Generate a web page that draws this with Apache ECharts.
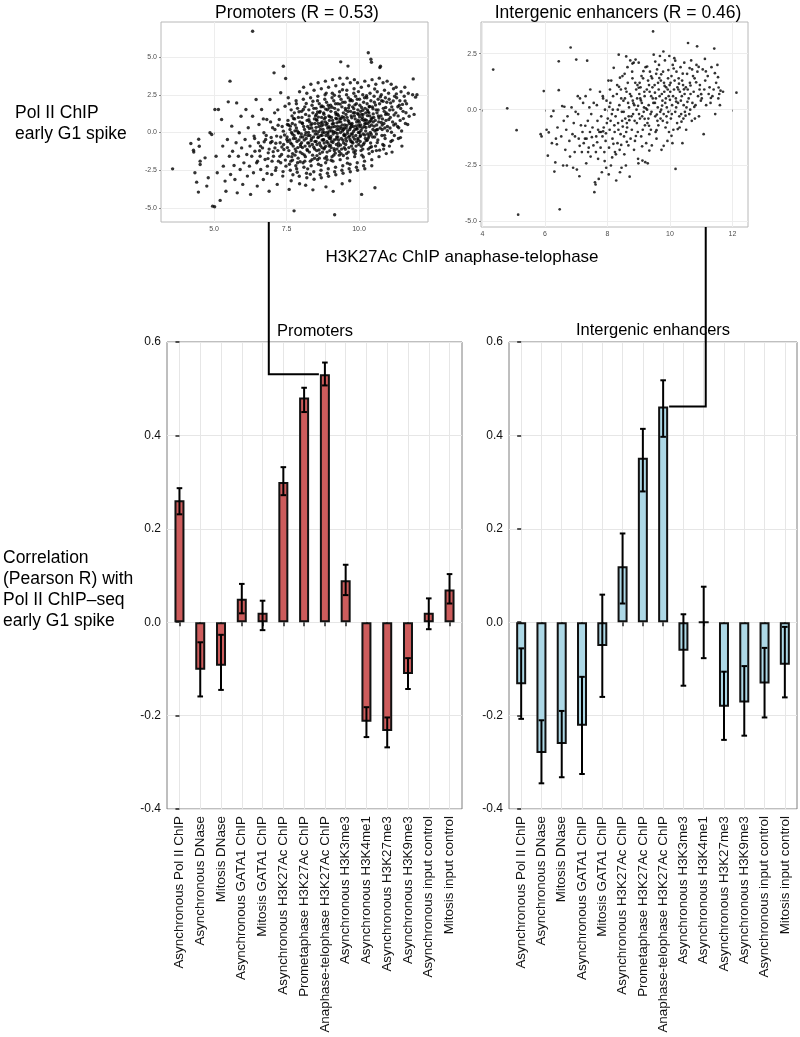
<!DOCTYPE html>
<html><head><meta charset="utf-8">
<script src="https://cdn.jsdelivr.net/npm/echarts@6/dist/echarts.min.js"></script>
<style>html,body{margin:0;padding:0;background:#fff}#c{width:800px;height:1037px}</style>
</head><body><div id="c"></div>
<script>
const categories = ["Asynchronous Pol II ChIP","Asynchronous DNase","Mitosis DNase","Asynchronous GATA1 ChIP","Mitosis GATA1 ChIP","Asynchronous H3K27Ac ChIP","Prometaphase H3K27Ac ChIP","Anaphase-telophase H3K27Ac ChIP","Asynchronous H3K3me3","Asynchronous H3K4me1","Asynchronous H3K27me3","Asynchronous H3K9me3","Asynchronous input control","Mitosis input control"];
const promoterR    = [0.261,-0.102,-0.093,0.050,0.020,0.300,0.481,0.531,0.090,-0.213,-0.233,-0.111,0.020,0.070];
const promoterLow  = [0.231,-0.159,-0.145,0.019,-0.017,0.272,0.450,0.507,0.058,-0.246,-0.268,-0.143,-0.015,0.040];
const promoterHigh = [0.287,-0.043,-0.027,0.082,0.046,0.332,0.502,0.556,0.123,-0.182,-0.204,-0.077,0.051,0.103];
const enhancerR    = [-0.133,-0.280,-0.261,-0.222,-0.051,0.120,0.352,0.462,-0.061,0.000,-0.181,-0.172,-0.131,-0.091];
const enhancerLow  = [-0.207,-0.345,-0.332,-0.325,-0.160,0.040,0.280,0.397,-0.136,-0.077,-0.252,-0.243,-0.204,-0.161];
const enhancerHigh = [-0.056,-0.210,-0.190,-0.117,0.059,0.190,0.414,0.518,0.017,0.076,-0.106,-0.094,-0.055,-0.010];
const promoterXTicks = [5,7.5,10];
const promoterYTicks = [-5,-2.5,0,2.5,5];
const enhancerXTicks = [4,6,8,10,12];
const enhancerYTicks = [-5,-2.5,0,2.5];

// Promoters scatter (x = H3K27Ac anaphase-telophase, y = Pol II early G1), flat x,y pairs
const promoterPoints = [
3.57,-2.41,4.2,-0.73,4.29,-1.17,4.3,-1.3,4.34,-2.67,4.4,-3.29,4.46,-3.95,4.52,-1.9,4.47,-0.45,4.49,-0.91,4.52,-2.12,4.69,-1.68,4.75,-3.55,4.8,-3.0,4.86,-0.02,4.92,-0.13,4.95,-4.88,5.02,-4.92,5.03,1.52,5.15,1.52,5.07,-1.57,5.11,-2.67,5.21,-4.5,5.26,0.86,5.3,-0.9,5.32,-2.23,5.38,-3.22,5.41,-3.89,5.46,-0.46,5.49,2.03,5.53,-1.57,5.55,3.4,5.57,-2.78,5.61,0.42,5.64,-1.24,5.69,-2.19,5.72,-3.11,5.76,-0.68,5.78,1.96,5.8,-4.0,5.84,-1.57,5.87,-0.02,5.9,-2.45,5.93,1.08,5.95,-1.02,5.99,-3.44,6.03,-2.01,6.07,-0.46,6.1,1.52,6.13,-1.46,6.15,-2.89,6.18,0.31,6.22,-2.23,6.24,-0.9,6.26,-4.1,6.3,-1.57,6.33,6.71,6.33,1.08,6.36,-2.67,6.38,-0.24,6.41,-1.24,6.45,2.19,6.47,-2.01,6.49,-3.55,6.53,-0.68,6.55,0.53,6.59,-1.57,6.61,-2.45,6.64,1.52,6.67,-1.02,6.7,-3.11,6.72,-0.02,6.76,-1.79,6.78,-0.46,6.82,0.86,6.84,-2.23,6.87,-1.35,6.9,-3.89,6.93,2.19,6.95,-0.68,6.99,-2.78,7.02,0.31,7.05,-1.57,7.07,3.95,7.09,1.3,7.1,-1.02,7.14,-2.34,7.16,-0.24,7.18,-3.44,7.22,-1.9,7.25,0.86,7.28,-0.68,7.3,2.63,7.33,-1.46,7.37,-2.89,7.39,4.39,7.39,0.09,7.41,-1.13,7.45,1.74,7.47,3.58,7.48,-2.23,7.51,-0.46,7.53,0.53,7.56,-1.57,7.59,-3.77,7.76,-5.19,
6.6,-0.9,6.8,-0.2,6.9,-1.1,7.0,-0.6,7.1,0.2,7.2,-1.2,7.3,-0.3,7.4,-0.8,7.0,-1.9,7.3,-2.0,6.5,-1.9,6.7,0.9,7.2,1.5,6.4,-0.4,6.95,0.7,7.35,0.4,
6.57,-1.21,6.73,-0.61,6.86,-1.73,6.97,-0.33,7.04,-1.27,7.13,-0.71,7.21,0.48,7.27,-1.58,7.34,-0.96,7.43,-0.17,7.46,-1.83,6.83,-2.71,7.12,-2.51,7.38,-2.59,
7.52,-0.3,7.55,0.8,7.58,-1.2,7.6,-2.1,7.62,0.2,7.64,-0.7,7.66,1.5,7.68,-1.6,7.7,-0.1,7.72,-2.8,7.53,-1.0,7.57,0.5,7.61,-0.5,7.65,-1.9,7.69,1.1,7.73,-0.9,7.56,2.3,7.63,-2.5,7.67,0.0,7.71,-1.4,7.54,-0.6,7.59,1.9,7.66,-3.2,7.7,0.6,7.74,-0.4,
7.76,-0.2,7.78,0.9,7.8,-1.1,7.82,-2.2,7.84,0.3,7.86,-0.6,7.88,1.6,7.9,-1.7,7.92,0.0,7.94,-2.9,7.96,0.7,7.98,-0.8,7.77,1.3,7.79,-1.5,7.81,-0.4,7.83,2.1,7.85,-2.4,7.87,0.1,7.89,-1.0,7.91,1.0,7.93,-0.5,7.95,2.7,7.97,-1.3,7.99,-0.3,7.8,0.5,7.88,-2.0,7.95,-3.4,7.84,1.9,
8.01,-0.1,8.03,1.0,8.05,-1.0,8.07,-2.0,8.09,0.4,8.11,-0.5,8.13,1.7,8.15,-1.6,8.17,0.0,8.19,-2.7,8.21,0.8,8.23,-0.7,8.02,1.4,8.04,-1.4,8.06,-0.3,8.08,2.2,8.1,-2.3,8.12,0.2,8.14,-0.9,8.16,1.2,8.18,-0.4,8.2,2.6,8.22,-1.2,8.24,-0.2,8.05,0.6,8.13,-1.9,8.2,-3.0,8.09,3.0,8.16,-3.5,8.23,0.4,
8.26,0.0,8.28,1.1,8.3,-0.9,8.32,-1.9,8.34,0.5,8.36,-0.4,8.38,1.8,8.4,-1.5,8.42,0.1,8.44,-2.6,8.46,0.9,8.48,-0.6,8.27,1.5,8.29,-1.3,8.31,-0.2,8.33,2.3,8.35,-2.2,8.37,0.3,8.39,-0.8,8.41,1.3,8.43,-0.3,8.45,2.8,8.47,-1.1,8.49,-0.1,8.3,0.7,8.38,-1.8,8.45,-3.1,8.34,3.2,8.41,-3.8,8.48,0.6,8.27,-0.7,8.44,1.6,
8.51,0.1,8.53,1.2,8.55,-0.8,8.57,-1.8,8.59,0.6,8.61,-0.3,8.63,1.9,8.65,-1.4,8.67,0.2,8.69,-2.5,8.71,1.0,8.73,-0.5,8.52,1.6,8.54,-1.2,8.56,-0.1,8.58,2.4,8.6,-2.1,8.62,0.4,8.64,-0.7,8.66,1.4,8.68,-0.2,8.7,2.9,8.72,-1.0,8.74,0.0,8.55,0.8,8.63,-1.7,8.7,-3.0,8.59,3.3,8.66,-2.8,8.73,0.7,8.52,-0.6,8.69,1.7,8.57,2.1,8.74,-1.3,
8.76,0.2,8.78,1.3,8.8,-0.7,8.82,-1.7,8.84,0.7,8.86,-0.2,8.88,2.0,8.9,-1.3,8.92,0.3,8.94,-2.4,8.96,1.1,8.98,-0.4,8.77,1.7,8.79,-1.1,8.81,0.0,8.83,2.5,8.85,-2.0,8.87,0.5,8.89,-0.6,8.91,1.5,8.93,-0.1,8.95,3.0,8.97,-0.9,8.99,0.1,8.8,0.9,8.88,-1.6,8.95,-2.9,8.84,3.4,8.91,-2.7,8.98,0.8,8.77,-0.5,8.94,1.8,8.82,2.2,8.99,-1.2,8.86,-3.6,8.9,0.6,
9.01,0.3,9.03,1.4,9.05,-0.6,9.07,-1.6,9.09,0.8,9.11,-0.1,9.13,2.1,9.15,-1.2,9.17,0.4,9.19,-2.3,9.21,1.2,9.23,-0.3,9.02,1.8,9.04,-1.0,9.06,0.1,9.08,2.6,9.1,-1.9,9.12,0.6,9.14,-0.5,9.16,1.6,9.18,0.0,9.2,3.1,9.22,-0.8,9.24,0.2,9.05,1.0,9.13,-1.5,9.2,-2.8,9.09,3.5,9.16,-2.6,9.23,0.9,9.02,-0.4,9.19,1.9,9.07,2.3,9.24,-1.1,9.11,-3.9,9.16,-5.45,
9.26,0.4,9.28,1.5,9.3,-0.5,9.32,-1.5,9.34,0.9,9.36,0.0,9.38,2.2,9.4,-1.1,9.42,0.5,9.44,-2.2,9.46,1.3,9.48,-0.2,9.27,1.9,9.29,-0.9,9.31,0.2,9.33,2.7,9.35,-1.8,9.37,0.7,9.39,-0.4,9.41,1.7,9.43,0.1,9.45,3.2,9.47,-0.7,9.49,0.3,9.3,1.1,9.38,-1.4,9.45,-2.7,9.34,3.6,9.41,-2.5,9.48,1.0,9.27,-0.3,9.44,2.0,9.32,2.4,9.49,-1.0,9.37,4.68,9.42,-3.4,
9.51,0.5,9.53,1.6,9.55,-0.4,9.57,-1.4,9.59,1.0,9.61,0.1,9.63,2.3,9.65,-1.0,9.67,0.6,9.69,-2.1,9.71,1.4,9.73,-0.1,9.52,2.0,9.54,-0.8,9.56,0.3,9.58,2.8,9.6,-1.7,9.62,0.8,9.64,-0.3,9.66,1.8,9.68,0.2,9.7,3.3,9.72,-0.6,9.74,0.4,9.55,1.2,9.63,-1.3,9.7,-2.6,9.59,3.6,9.66,-2.4,9.73,1.1,9.52,-0.2,9.69,2.1,9.57,2.5,9.74,-0.9,9.62,4.4,9.68,-3.2,
9.76,0.6,9.78,1.7,9.8,-0.3,9.82,-1.3,9.84,1.1,9.86,0.2,9.88,2.4,9.9,-0.9,9.92,0.7,9.94,-2.0,9.96,1.5,9.98,0.0,9.77,2.1,9.79,-0.7,9.81,0.4,9.83,2.9,9.85,-1.6,9.87,0.9,9.89,-0.2,9.91,1.9,9.93,0.3,9.95,3.3,9.97,-0.5,9.99,0.5,9.8,1.3,9.88,-1.2,9.95,-2.5,9.84,3.5,9.91,-2.3,9.98,1.2,9.77,-0.1,9.94,2.2,9.82,2.6,9.99,-0.8,
10.01,0.7,10.03,1.8,10.05,-0.2,10.07,-1.2,10.09,1.2,10.11,0.3,10.13,2.5,10.15,-0.8,10.17,0.8,10.19,-1.9,10.21,1.6,10.23,0.1,10.02,2.2,10.04,-0.6,10.06,0.5,10.08,3.0,10.1,-1.5,10.12,1.0,10.14,-0.1,10.16,2.0,10.18,0.4,10.2,3.4,10.22,-0.4,10.24,0.6,10.05,1.4,10.13,-1.1,10.2,-2.4,10.09,-4.1,10.16,-2.2,10.23,1.3,10.02,0.0,10.19,2.3,
10.26,0.8,10.28,1.9,10.3,-0.1,10.32,-1.1,10.34,1.3,10.36,0.4,10.38,2.6,10.4,-0.7,10.42,0.9,10.44,-1.8,10.46,1.7,10.48,0.2,10.27,2.3,10.29,-0.5,10.31,0.6,10.33,3.1,10.35,-1.4,10.37,1.1,10.39,0.0,10.41,2.1,10.43,0.5,10.45,3.5,10.47,-0.3,10.49,0.7,10.32,5.28,10.38,-1.0,10.44,-2.2,10.41,4.85,10.43,4.65,10.29,1.5,
10.51,1.0,10.53,2.0,10.55,0.1,10.57,-0.9,10.59,1.5,10.61,0.5,10.63,2.7,10.65,-0.5,10.67,1.1,10.69,-1.6,10.71,1.9,10.73,0.3,10.52,2.4,10.54,-0.3,10.56,0.8,10.58,3.2,10.6,-1.2,10.62,1.3,10.64,0.2,10.66,2.2,10.68,0.7,10.7,3.6,10.55,-3.66,10.74,4.39,10.72,4.3,10.6,-0.1,
10.76,1.1,10.78,2.1,10.8,0.2,10.82,-0.8,10.84,1.6,10.86,0.6,10.88,2.8,10.9,-0.4,10.92,1.2,10.94,-1.4,10.96,2.0,10.98,0.4,10.77,2.5,10.79,-0.2,10.81,0.9,10.83,3.3,10.85,-1.1,10.87,1.4,10.89,0.3,10.91,2.3,10.93,0.8,10.97,3.4,
11.01,1.2,11.04,2.2,11.07,0.3,11.1,-0.6,11.13,1.7,11.16,0.7,11.19,2.9,11.22,-0.2,11.02,2.6,11.05,-0.9,11.08,1.0,11.11,3.2,11.14,-1.3,11.17,1.5,11.2,0.5,11.23,2.4,
11.27,1.3,11.3,2.3,11.33,0.4,11.36,-0.4,11.39,1.8,11.42,0.8,11.45,2.7,11.48,-0.9,11.28,3.0,11.35,1.1,11.41,2.1,11.47,0.1,
11.52,1.4,11.56,2.4,11.6,0.6,11.64,1.9,11.68,0.53,11.73,1.08,11.58,3.0,11.7,2.6,
11.8,1.6,11.87,3.55,11.95,2.34,11.85,2.5,11.9,1.2,12.0,2.5,
7.63,0.42,7.71,-1.83,7.79,0.11,7.87,-2.63,7.93,1.37,7.99,-0.92,8.04,0.63,8.11,-1.48,8.18,1.92,8.23,-2.41,8.29,0.27,8.35,-0.53,8.41,2.07,8.47,-1.71,8.53,0.86,8.58,-0.34,8.64,1.33,8.69,-2.18,8.76,0.51,8.81,-1.02,8.87,2.61,8.93,-0.71,8.99,1.04,9.04,-1.84,9.09,0.37,9.15,2.47,9.21,-0.44,9.26,1.21,9.32,-1.26,9.38,0.93,9.43,2.83,9.49,-0.12,9.54,1.48,9.6,-2.03,9.65,0.71,9.71,2.19,9.76,-0.63,9.82,1.58,9.87,-1.41,9.93,0.22,9.98,2.71,10.04,-0.27,10.09,1.66,10.15,-1.62,10.21,0.84,10.26,2.43,10.32,-0.36,10.37,1.72,10.43,-0.94,10.49,1.23,10.54,2.88,10.6,0.17,10.66,1.49,10.71,-1.17,10.77,0.66,10.83,2.07,10.88,-0.19,10.94,1.29,11.03,0.86,11.09,1.96,11.15,-0.52,11.21,1.16,11.29,2.56,11.37,0.31,11.44,1.59,11.53,0.92,11.62,1.31,
7.68,-0.77,7.74,0.93,7.83,-1.26,7.91,-0.04,7.97,-1.94,8.02,-0.68,8.08,1.52,8.14,-0.16,8.21,-1.12,8.27,0.84,8.32,-2.77,8.38,0.58,8.44,-0.98,8.5,1.09,8.55,-1.53,8.61,0.06,8.67,-0.87,8.72,1.76,8.78,-0.47,8.84,0.99,8.9,-1.81,8.96,0.39,9.01,-0.84,9.07,1.67,9.12,0.05,9.18,-1.37,9.24,0.64,9.29,-0.71,9.35,1.88,9.4,0.27,9.46,-1.52,9.51,0.82,9.57,-0.57,9.62,1.39,9.68,-0.24,9.73,0.53,9.79,-1.09,9.85,1.31,9.9,0.44,9.96,-0.39,10.02,1.04,10.07,0.13,10.13,1.47,10.18,-0.69,10.24,0.33,10.29,1.12,10.35,-0.23,10.41,0.77,10.46,-1.26,10.52,0.42,10.57,1.82,10.63,-0.67,10.69,0.96,10.74,2.37,10.8,0.49,10.86,-0.86,10.92,1.66,10.98,0.12,11.06,1.49,11.12,0.02,11.18,2.09,11.26,0.57,11.34,1.71,11.43,-0.34,11.5,1.86,11.59,2.09,
8.52,0.34,8.57,1.36,8.62,-1.16,8.68,0.61,8.73,-0.19,8.79,1.21,8.85,-0.92,8.91,0.02,8.97,1.63,9.03,-0.27,9.08,0.57,9.14,-1.07,9.19,1.32,9.25,-0.06,9.31,0.71,9.36,-0.83,9.42,1.04,9.47,0.19,9.53,-1.11,9.58,0.47,9.64,1.62,9.69,-0.46,9.75,0.98,9.81,0.07,9.86,1.83,9.92,-0.62,9.97,0.81,10.03,0.38,10.08,-0.91,10.14,1.19,10.2,0.58,10.25,-0.54,10.31,1.38,10.36,0.71,10.42,-0.12,10.48,1.57,8.7,0.43,8.95,-0.28,9.2,0.94,9.45,-0.51,9.7,0.31,9.95,1.26,10.2,-0.17,10.45,0.96,8.6,1.02,8.85,1.55,9.1,-0.66,9.35,0.38,9.6,-0.06,9.85,-0.44,10.1,0.86,10.35,1.71
];

// Intergenic enhancers scatter, flat x,y pairs
const enhancerPoints = [
4.34,1.79,4.79,0.06,5.09,-0.92,5.14,-4.7,5.96,0.83,5.86,-1.1,5.89,-1.2,
6.05,-0.9,6.09,-2.06,6.12,-1.02,6.2,-0.3,6.22,-1.5,
6.27,-0.06,6.3,-2.77,6.33,-2.36,6.35,-1.3,6.38,-1.55,6.44,2.16,6.44,0.87,6.47,-4.46,6.4,-0.8,
6.52,-1.2,6.55,0.16,6.58,-2.5,6.6,-0.5,6.62,0.13,6.65,-1.8,6.68,-0.9,6.7,-2.5,6.72,-0.3,
6.78,-1.4,6.8,-2.1,6.82,2.78,6.85,0.1,6.88,-1.1,6.9,-2.6,6.92,-0.6,6.95,-1.9,6.98,-0.1,6.96,-1.2,
7.0,2.24,7.02,-2.68,7.05,0.6,7.08,-1.3,7.1,-2.98,7.12,0.5,7.15,-0.7,7.18,-1.9,7.2,-1.0,7.22,0.3,7.24,-1.5,7.06,-0.2,
7.28,-1.3,7.3,0.6,7.32,-2.4,7.35,2.19,7.37,-0.5,7.4,-1.7,7.42,0.1,7.44,-1.0,7.46,-2.1,7.48,-0.2,7.33,-1.3,7.45,0.9,7.38,-1.9,
7.52,-0.8,7.55,-1.6,7.58,-3.69,7.6,-3.25,7.62,-3.35,7.64,-1.2,7.66,0.2,7.68,-0.5,7.7,-2.2,7.72,-3.1,7.74,-1.0,7.56,0.3,7.63,-1.9,7.7,-0.9,
7.76,0.8,7.78,-1.7,7.8,-0.3,7.82,-2.8,7.84,-1.2,7.86,0.5,7.88,-0.8,7.9,-1.9,7.92,0.0,7.94,-1.4,7.96,-2.6,7.98,-0.6,7.79,-1.0,7.85,0.6,7.91,-2.3,7.97,0.4,
8.01,-0.4,8.03,1.3,8.05,-1.7,8.07,-0.9,8.09,0.3,8.11,-2.5,8.12,1.3,8.14,-0.2,8.16,-1.3,8.18,0.6,8.2,1.87,8.22,-0.7,8.24,-1.9,8.04,-2.9,8.1,-0.5,8.17,0.0,8.23,-1.0,8.08,0.9,
8.26,-0.3,8.28,-3.17,8.3,0.7,8.32,-1.5,8.34,-0.6,8.36,2.46,8.38,0.2,8.4,-2.8,8.42,-1.1,8.44,0.5,8.46,-0.1,8.48,1.5,8.27,-2.0,8.31,1.1,8.35,-0.9,8.39,-1.8,8.43,0.9,8.47,-0.5,8.45,-2.6,8.33,0.0,
8.51,0.4,8.53,-1.2,8.55,1.6,8.57,-0.4,8.59,-2.5,8.61,0.8,8.63,-0.8,8.65,1.2,8.67,-1.6,8.69,0.1,8.71,-3.0,8.73,2.2,8.52,-0.1,8.56,0.5,8.6,-1.0,8.64,1.9,8.68,-0.3,8.72,0.7,8.54,-2.0,8.62,-0.6,8.66,0.3,8.74,-1.3,
8.76,0.6,8.78,-0.9,8.8,1.4,8.82,-0.2,8.84,2.1,8.86,0.2,8.88,-1.4,8.9,2.24,8.92,0.9,8.94,-0.6,8.96,1.1,8.98,-2.2,8.77,-0.3,8.81,0.4,8.85,-1.8,8.89,1.2,8.93,0.0,8.97,-1.0,8.79,1.7,8.87,-0.5,8.95,0.5,8.99,-2.4,
9.0,2.1,9.02,0.7,9.04,-0.4,9.06,1.0,9.08,-1.2,9.1,0.3,9.12,-2.28,9.14,1.4,9.16,-0.1,9.18,0.8,9.2,-0.7,9.22,1.9,9.24,-1.5,9.01,-0.2,9.05,0.5,9.09,1.5,9.13,-0.9,9.17,0.1,9.21,-2.35,9.03,1.2,9.11,-0.3,9.19,0.6,
9.26,0.9,9.28,-0.6,9.3,1.3,9.32,0.2,9.34,-1.1,9.36,1.7,9.38,-0.2,9.4,0.6,9.42,-1.6,9.44,1.0,9.46,3.5,9.48,2.46,9.27,0.0,9.31,-0.4,9.35,0.8,9.39,-0.9,9.43,1.4,9.47,0.3,9.29,-2.4,9.33,1.1,9.41,-0.1,9.45,0.5,
9.51,1.1,9.53,-0.3,9.55,0.5,9.57,-1.3,9.59,1.8,9.61,0.1,9.63,-0.7,9.65,2.0,9.67,0.6,9.69,-0.1,9.71,1.3,9.73,-1.8,9.52,0.3,9.56,1.6,9.6,-0.5,9.64,0.9,9.68,2.4,9.72,0.0,9.54,-1.0,9.62,1.2,9.7,-0.4,9.74,0.7,
9.76,0.4,9.78,1.7,9.8,-0.2,9.82,0.8,9.84,2.2,9.86,-0.8,9.88,1.0,9.9,0.1,9.92,-1.4,9.94,1.4,9.96,0.6,9.98,2.4,9.77,-0.5,9.81,1.2,9.85,0.3,9.89,-0.3,9.93,0.9,9.97,-1.0,9.79,2.6,9.87,0.5,9.95,-0.1,9.99,1.1,
10.01,0.8,10.03,-0.4,10.05,1.5,10.07,0.2,10.09,2.0,10.11,-0.9,10.13,0.9,10.15,1.3,10.17,-0.1,10.19,0.5,10.18,-2.65,10.21,1.7,10.23,-0.6,10.02,1.2,10.06,-0.2,10.1,0.6,10.14,2.3,10.2,0.1,10.24,1.0,10.08,-1.5,
10.26,0.3,10.28,1.4,10.3,-0.3,10.32,0.8,10.34,1.9,10.36,-0.2,10.38,0.6,10.4,-1.5,10.42,1.1,10.44,0.2,10.46,2.1,10.48,-0.1,10.27,0.9,10.31,-0.8,10.35,0.4,10.39,1.3,10.43,-0.4,10.47,0.7,
10.51,1.0,10.53,0.1,10.55,1.6,10.58,2.98,10.6,0.5,10.62,-0.2,10.64,1.2,10.66,0.7,10.68,2.2,10.7,-0.5,10.72,0.3,10.74,1.5,10.52,-0.9,10.57,0.9,10.65,0.0,10.71,1.8,
10.76,0.8,10.79,1.4,10.82,0.2,10.85,2.0,10.87,2.83,10.9,0.6,10.93,-0.3,10.96,1.1,10.99,0.4,10.8,-0.4,10.88,1.7,10.95,0.9,
11.02,0.5,11.05,1.8,11.08,-1.1,11.1,0.9,11.13,1.3,11.16,0.2,11.19,-5.29,11.21,1.5,11.24,0.7,
11.27,1.0,11.3,0.3,11.33,1.9,11.36,0.6,11.42,2.73,11.45,-0.2,11.48,1.2,11.4,0.9,
11.52,2.0,11.54,1.45,11.56,0.99,11.55,0.5,11.58,0.7,11.6,0.2,11.62,0.85,
12.13,0.76,11.7,0.8,
7.86,-0.97,8.06,0.12,8.19,-1.53,8.37,1.02,8.49,-0.76,8.58,0.94,8.7,-0.47,8.83,0.28,8.91,-1.18,9.07,0.41,9.15,1.72,9.23,0.06,9.33,-0.72,9.4,1.49,9.52,0.76,9.58,-0.22,9.66,1.41,9.75,0.18,9.83,1.06,9.91,-0.58,10.0,0.44,10.12,1.84,10.2,0.36,10.29,1.16,10.37,-0.54,10.45,0.91,10.56,0.35,10.63,1.86,10.78,0.12,10.84,1.22,11.0,0.69,11.15,1.71,11.31,0.52,11.44,1.63,8.62,-1.44,8.44,-1.58,8.15,-2.14,7.95,-1.06,7.67,-1.46,7.5,-1.23,7.29,-0.72,7.11,-1.62,9.11,-1.64,9.34,-1.83,9.57,-0.92,9.8,-1.62,10.05,-1.17,10.25,-0.87,10.5,-0.27,9.0,0.98,9.27,1.93,9.53,2.15,9.72,1.58,9.95,1.77,10.17,2.19,10.41,1.61,10.66,1.08,10.92,1.91,11.12,2.27,8.4,1.43,8.6,2.38,8.8,2.06,8.98,0.17,9.19,-0.41
];

const FONT = '"Liberation Sans", Arial, Helvetica, sans-serif';
function pairs(flat){ const out=[]; for(let i=0;i<flat.length;i+=2) out.push([flat[i],flat[i+1]]); return out; }
const catIdx = categories.map((c,i)=>i);

function scatterX(gi, min, max, ticks, fmt){
  return {gridIndex:gi, type:'value', min:min, max:max,
    axisLine:{show:false},
    axisTick:{show:true, length:2, customValues:ticks, lineStyle:{color:'#8a8a8a', width:1}},
    axisLabel:{customValues:ticks, formatter:fmt, fontSize:7, color:'#4d4d4d', margin:4, fontFamily:FONT},
    splitLine:{show:true, lineStyle:{color:'#ededed', width:1}}};
}
function scatterY(gi, min, max, ticks){
  return {gridIndex:gi, type:'value', min:min, max:max,
    axisLine:{show:false},
    axisTick:{show:true, length:2, customValues:ticks, lineStyle:{color:'#8a8a8a', width:1}},
    axisLabel:{customValues:ticks, formatter:v=>v.toFixed(1), fontSize:7, color:'#4d4d4d', margin:4, fontFamily:FONT},
    splitLine:{show:true, lineStyle:{color:'#ededed', width:1}}};
}
function barX(gi){
  return {gridIndex:gi, type:'value', min:-0.6, max:13.6,
    axisLine:{show:false},
    axisTick:{show:true, length:4, customValues:catIdx, lineStyle:{color:'#222', width:1.5}},
    axisLabel:{customValues:catIdx, formatter:v=>categories[Math.round(v)], rotate:90, fontSize:13.4, color:'#111', margin:7, fontFamily:FONT},
    splitLine:{show:true, lineStyle:{color:'#e6e6e6', width:1}}};
}
function barY(gi){
  return {gridIndex:gi, type:'value', min:-0.4, max:0.6, interval:0.2,
    axisLine:{show:false},
    axisTick:{show:true, length:4, lineStyle:{color:'#222', width:1.5}},
    axisLabel:{formatter:v=>v.toFixed(1), fontSize:12, color:'#111', margin:6, fontFamily:FONT},
    splitLine:{show:true, lineStyle:{color:'#e6e6e6', width:1}}};
}
function errSeries(gi, lows, highs){
  return {type:'custom', xAxisIndex:gi, yAxisIndex:gi, z:5, silent:true,
    data: lows.map((l,i)=>[i,l,highs[i]]),
    encode:{x:0, y:[1,2]},
    renderItem:function(params, api){
      const lo = api.coord([api.value(0), api.value(1)]);
      const hi = api.coord([api.value(0), api.value(2)]);
      const h = 2.8, st = {stroke:'#000', lineWidth:2};
      return {type:'group', children:[
        {type:'line', shape:{x1:lo[0], y1:lo[1], x2:hi[0], y2:hi[1]}, style:st},
        {type:'line', shape:{x1:lo[0]-h, y1:lo[1], x2:lo[0]+h, y2:lo[1]}, style:st},
        {type:'line', shape:{x1:hi[0]-h, y1:hi[1], x2:hi[0]+h, y2:hi[1]}, style:st}
      ]};
    }};
}

const chart = echarts.init(document.getElementById('c'), null, {renderer:'canvas'});
const gridBase = {show:true, borderColor:'#7f7f7f', borderWidth:1, backgroundColor:'transparent'};
const option = {
  animation:false,
  textStyle:{fontFamily:FONT},
  grid:[
    Object.assign({left:161, top:22, width:267, height:200}, gridBase, {borderColor:'#b8b8b8'}),
    Object.assign({left:481, top:22, width:267, height:205}, gridBase, {borderColor:'#b8b8b8'}),
    Object.assign({left:167, top:342, width:295, height:467}, gridBase),
    Object.assign({left:509, top:342, width:288, height:467}, gridBase)
  ],
  xAxis:[
    scatterX(0, 3.17, 12.38, promoterXTicks, v=>v.toFixed(1)),
    scatterX(1, 3.95, 12.5, enhancerXTicks, v=>String(v)),
    barX(2), barX(3)
  ],
  yAxis:[
    scatterY(0, -5.93, 7.32, promoterYTicks),
    scatterY(1, -5.25, 3.92, enhancerYTicks),
    barY(2), barY(3)
  ],
  series:[
    {type:'scatter', xAxisIndex:0, yAxisIndex:0, data:pairs(promoterPoints), symbolSize:3.4, itemStyle:{color:'#000'}, silent:true, large:false},
    {type:'scatter', xAxisIndex:1, yAxisIndex:1, data:pairs(enhancerPoints), symbolSize:2.7, itemStyle:{color:'#000'}, silent:true},
    {type:'bar', xAxisIndex:2, yAxisIndex:2, data:promoterR.map((v,i)=>[i,v]), barWidth:10, z:3,
      itemStyle:{color:'#CD5C5C', borderColor:'#111', borderWidth:2}, silent:true},
    {type:'bar', xAxisIndex:3, yAxisIndex:3, data:enhancerR.map((v,i)=>[i,v]), barWidth:10, z:3,
      itemStyle:{color:'#ADD8E6', borderColor:'#111', borderWidth:2}, silent:true},
    errSeries(2, promoterLow, promoterHigh),
    errSeries(3, enhancerLow, enhancerHigh)
  ]
};
chart.setOption(option);

function px(gi, x, y){ return chart.convertToPixel({xAxisIndex:gi, yAxisIndex:gi}, [x, y]); }
const half = 6;
const lTop = px(2, 7, promoterR[7]);
const lVx = px(2, 4.3, 0)[0];
const lScBottom = px(0, 5, -5.93)[1];
const rTop = px(3, 7, enhancerR[7]);
const rVx = px(3, 9.1, 0)[0];
const rScBottom = px(1, 4, -5.25)[1];

function txt(t, x, y, size, align){
  return {type:'text', x:x, y:y, silent:true, style:{text:t, fill:'#000', font:size+'px '+FONT, textAlign:align||'center', textVerticalAlign:'middle'}};
}
chart.setOption({graphic:[
  txt('Promoters (R = 0.53)', 297, 13, 17.5),
  txt('Intergenic enhancers (R = 0.46)', 618, 13, 17.5),
  txt('H3K27Ac ChIP anaphase-telophase', 462, 257, 17),
  txt('Pol II ChIP', 15, 113, 17.5, 'left'),
  txt('early G1 spike', 15, 134, 17.5, 'left'),
  txt('Correlation', 3, 558, 17.5, 'left'),
  txt('(Pearson R) with', 3, 579, 17.5, 'left'),
  txt('Pol II ChIP\u2013seq', 3, 600, 17.5, 'left'),
  txt('early G1 spike', 3, 621, 17.5, 'left'),
  txt('Promoters', 315, 331, 16.5),
  txt('Intergenic enhancers', 653, 330, 16.5),
  {type:'polyline', silent:true, z:10, shape:{points:[[lTop[0]-half, lTop[1]],[lVx, lTop[1]],[lVx, lScBottom]]}, style:{stroke:'#000', lineWidth:2, fill:null}},
  {type:'polyline', silent:true, z:10, shape:{points:[[rTop[0]+half, rTop[1]],[rVx, rTop[1]],[rVx, rScBottom]]}, style:{stroke:'#000', lineWidth:2, fill:null}}
]});
</script></body></html>
